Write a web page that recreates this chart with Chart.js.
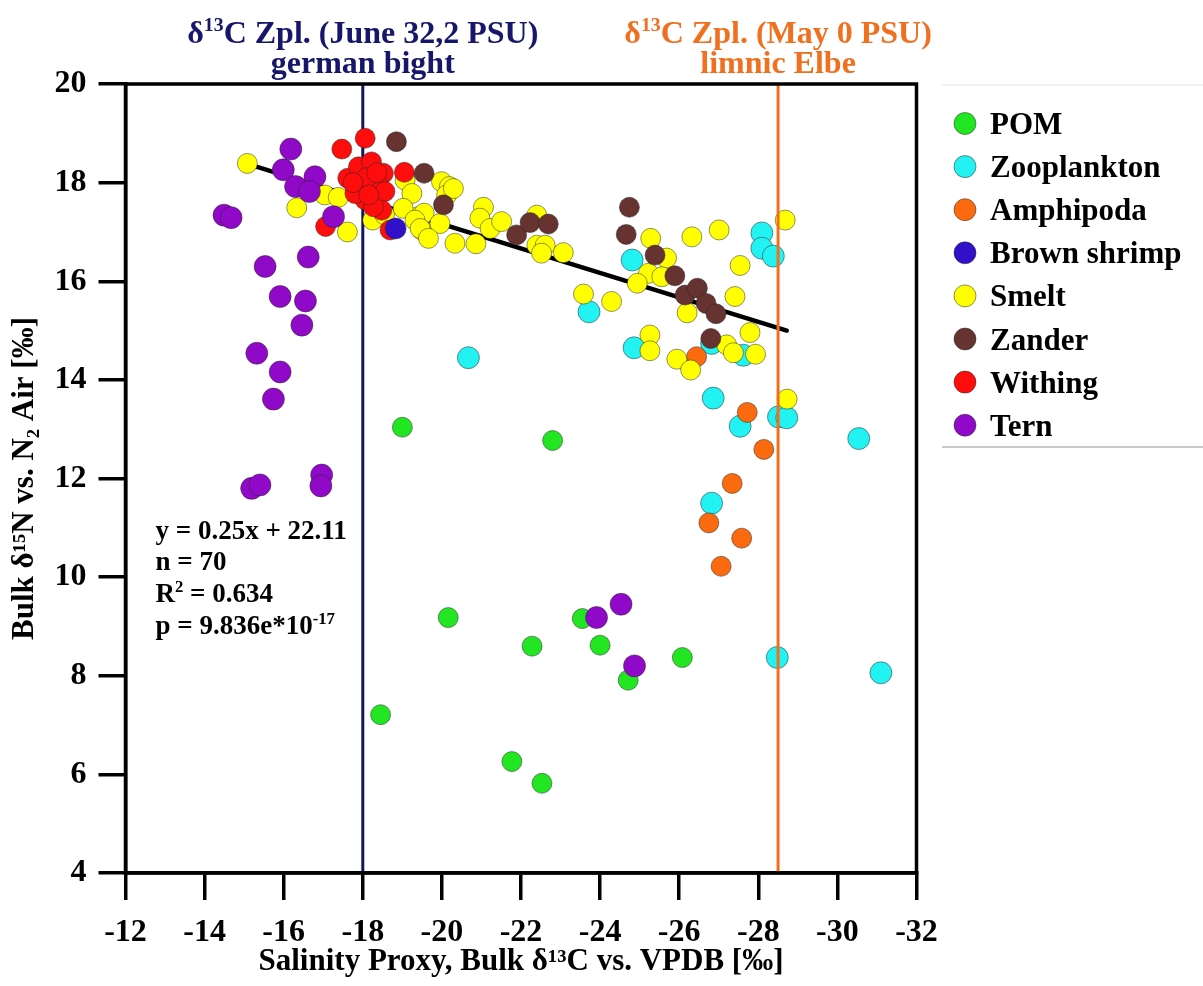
<!DOCTYPE html>
<html><head><meta charset="utf-8">
<script src="https://cdn.jsdelivr.net/npm/chart.js@4.4.0/dist/chart.umd.min.js"></script>
<style>html,body{margin:0;padding:0;background:#fff;}canvas{display:block;}</style>
</head><body>
<canvas id="c" width="1203" height="986" style="width:1203px;height:986px"></canvas>
<script>
// ---- data ----
const seriesNames = ['POM','Zooplankton','Amphipoda','Brown shrimp','Smelt','Zander','Withing','Tern'];

const pomX = [-19.00,-22.80,-20.16,-23.55,-22.28,-24.00,-26.08,-24.71,-18.45,-21.77,-22.53];
const pomY = [13.04,12.77,9.18,9.16,8.60,8.62,8.37,7.91,7.21,6.26,5.82];

const zooX = [-20.67,-23.72,-24.81,-24.86,-26.82,-27.62,-28.09,-28.09,-28.38,-26.86,-27.54,-28.51,-28.72,-30.54,-26.82,-28.48,-31.10];
const zooY = [14.45,15.38,16.43,14.65,14.74,14.50,16.98,16.67,16.51,13.63,13.06,13.25,13.23,12.81,11.50,8.37,8.06];

const amphX = [-26.44,-27.72,-28.14,-27.34,-26.75,-27.58,-27.06];
const amphY = [14.47,13.34,12.59,11.90,11.10,10.79,10.22];

const shrimpX = [-18.83];
const shrimpY = [17.07];

const smeltX = [-15.08,-16.33,-17.04,-17.38,-17.61,-18.25,-18.55,-19.07,-19.24,-19.49,-19.40,-19.99,-20.19,-20.12,-20.29,
  -19.02,-19.55,-19.32,-19.95,-19.45,-19.66,-20.33,-20.86,-21.05,-20.96,-21.22,-21.51,-22.40,-22.40,-22.61,-22.52,-23.07,
  -23.58,-24.29,-25.28,-26.32,-27.01,-28.68,-25.68,-25.22,-25.56,-24.94,-26.20,-27.54,-27.41,-25.26,-25.26,-27.20,-27.37,
  -27.79,-27.93,-25.94,-26.29,-28.73];
const smeltY = [18.39,17.49,17.75,17.70,17.00,17.24,17.35,18.05,17.78,17.04,17.31,18.02,17.92,17.75,17.88,
  17.48,17.38,17.24,17.17,17.07,16.87,16.77,16.76,17.50,17.28,17.07,17.21,17.34,16.73,16.73,16.57,16.58,
  15.74,15.59,16.87,16.90,17.04,17.24,16.47,16.16,16.09,15.96,15.36,16.32,15.69,14.91,14.59,14.71,14.55,
  14.96,14.52,14.42,14.20,13.61];

const zanderX = [-18.85,-19.55,-20.04,-21.89,-22.23,-22.69,-24.74,-24.66,-25.39,-25.89,-26.15,-26.46,-26.68,-26.93,-26.80];
const zanderY = [18.83,18.19,17.55,16.94,17.19,17.16,17.50,16.95,16.53,16.11,15.72,15.86,15.55,15.34,14.84];

const withingX = [-17.47,-18.06,-17.62,-17.89,-18.22,-18.52,-17.97,-18.39,-18.56,-18.06,-18.48,-18.27,-19.05,-17.80,-18.69,-17.06,-18.10,-18.35,-17.75,-18.15];
const withingY = [18.68,18.90,18.09,18.32,18.42,18.19,17.92,17.95,17.82,17.65,17.44,17.51,18.21,17.78,17.04,17.11,18.10,18.20,18.00,17.75];

const ternX = [-16.18,-15.99,-16.30,-16.79,-16.65,-14.49,-14.67,-17.26,-16.62,-15.53,-15.91,-16.55,-16.46,-15.32,-15.91,-15.74,-15.19,-15.40,-16.96,-16.94,-24.53,-23.91,-24.87];
const ternY = [18.68,18.26,17.92,18.12,17.82,17.34,17.29,17.31,16.49,16.30,15.69,15.60,15.11,14.54,14.16,13.61,11.80,11.87,12.07,11.85,9.45,9.18,8.20];

const regX = [-15.08,-28.72];
const regY = [18.38,15.00];

const zplX = [-18, -28.5];       // reference lines (June 32,2 PSU ; May 0 PSU)
const yRange = [4, 20];
const xTicks = [-12,-14,-16,-18,-20,-22,-24,-26,-28,-30,-32];
const yTicks = [4,6,8,10,12,14,16,18,20];

const statLines = ['y = 0.25x + 22.11','n = 70','R2 = 0.634','p = 9.836e*10-17'];

// ---- styling ----
const colors = ['#22e622','#22f2f2','#fb6a0e','#3010c8','#ffff00','#663330','#ff0c0c','#9008c8'];
const radii  = [10,11,10,10.5,10,10,10,11];
const FONT = '"Liberation Serif","Times New Roman",Times,serif';

function pts(xs, ys){ return xs.map((x,i)=>({x:x, y:ys[i]})); }
const seriesData = [pts(pomX,pomY),pts(zooX,zooY),pts(amphX,amphY),pts(shrimpX,shrimpY),pts(smeltX,smeltY),pts(zanderX,zanderY),pts(withingX,withingY),pts(ternX,ternY)];
const drawOrder = [8,7,6,2,5,4,3,1];

const datasets = seriesNames.map((n,i)=>({
  label:n, data:seriesData[i], backgroundColor:colors[i], borderColor:'rgba(40,40,40,0.5)', borderWidth:1,
  pointRadius:radii[i], pointHoverRadius:radii[i], order:drawOrder[i]
}));
datasets.push({label:'fit', isLine:true, data:pts(regX,regY), showLine:true, borderColor:'#000', borderWidth:4.5, pointRadius:0, order:12, borderCapStyle:'round'});
datasets.push({label:'june', isLine:true, data:pts([zplX[0],zplX[0]],yRange), showLine:true, borderColor:'#141466', borderWidth:3, pointRadius:0, order:13});
datasets.push({label:'may', isLine:true, data:pts([zplX[1],zplX[1]],yRange), showLine:true, borderColor:'#f07020', borderWidth:3, pointRadius:0, order:0});

function rich(ctx, segs, x, y, size, color, align){
  let w=0;
  const parts=segs.map(s=>{const fs=(s.sup||s.sub)?size*0.62:size; ctx.font='bold '+fs+'px '+FONT; const m=ctx.measureText(s.t).width; w+=m; return {s,fs,m};});
  let cx = align==='center' ? x-w/2 : x;
  ctx.fillStyle=color; ctx.textAlign='left'; ctx.textBaseline='alphabetic';
  parts.forEach(p=>{ctx.font='bold '+p.fs+'px '+FONT; const dy=p.s.sup?-size*0.36:(p.s.sub?size*0.2:0); ctx.fillText(p.s.t,cx,y+dy); cx+=p.m;});
}

const deco = {
  id:'deco',
  afterDraw(chart){
    const ctx=chart.ctx, a=chart.chartArea, xs=chart.scales.x;
    ctx.save();
    // frame
    ctx.strokeStyle='#000'; ctx.lineWidth=3.5;
    ctx.strokeRect(a.left,a.top,a.right-a.left,a.bottom-a.top);
    // top annotations
    const p1=xs.getPixelForValue(zplX[0]), p2=xs.getPixelForValue(zplX[1]);
    rich(ctx,[{t:'δ'},{t:'13',sup:true},{t:'C Zpl. (June 32,2 PSU)'}],p1,43,32,'#16166a','center');
    rich(ctx,[{t:'german bight'}],p1,73,32,'#16166a','center');
    rich(ctx,[{t:'δ'},{t:'13',sup:true},{t:'C Zpl. (May 0 PSU)'}],p2,43,32,'#f07020','center');
    rich(ctx,[{t:'limnic Elbe'}],p2,73,32,'#f07020','center');
    // statistics
    const sx=a.left+30, sy=538.5, lh=31.7;
    rich(ctx,[{t:statLines[0]}],sx,sy,27,'#000','left');
    rich(ctx,[{t:statLines[1]}],sx,sy+lh,27,'#000','left');
    rich(ctx,[{t:'R'},{t:'2',sup:true},{t:' = 0.634'}],sx,sy+2*lh,27,'#000','left');
    rich(ctx,[{t:'p = 9.836e*10'},{t:'-17',sup:true}],sx,sy+3*lh,27,'#000','left');
    // legend
    ctx.lineWidth=1.5; ctx.strokeStyle='#ececec';
    ctx.beginPath(); ctx.moveTo(942,85); ctx.lineTo(1203,85); ctx.stroke();
    ctx.strokeStyle='#b8b8b8';
    ctx.beginPath(); ctx.moveTo(942,447); ctx.lineTo(1203,447); ctx.stroke();
    chart.data.datasets.filter(d=>!d.isLine).forEach((d,i)=>{
      const cy=123.5+i*43.1;
      ctx.beginPath(); ctx.arc(965,cy,11,0,Math.PI*2);
      ctx.fillStyle=d.backgroundColor; ctx.fill();
      ctx.lineWidth=1; ctx.strokeStyle='rgba(40,40,40,0.5)'; ctx.stroke();
      ctx.fillStyle='#000'; ctx.font='bold 31px '+FONT; ctx.textAlign='left'; ctx.textBaseline='alphabetic';
      ctx.fillText(d.label,990,cy+10.5);
    });
    ctx.restore();
  }
};

const tickFont = {family:FONT, size:32, weight:'bold'};
new Chart(document.getElementById('c'), {
  type:'scatter',
  data:{datasets},
  options:{
    responsive:false, animation:false, devicePixelRatio:1,
    layout:{padding:{left:0,top:84,right:286.5,bottom:0}},
    plugins:{legend:{display:false}, tooltip:{enabled:false}},
    scales:{
      x:{type:'linear', reverse:true, min:xTicks[xTicks.length-1], max:xTicks[0],
        afterBuildTicks:(s)=>{s.ticks=xTicks.map(v=>({value:v}));},
        afterFit:(s)=>{s.height=113;},
        grid:{drawOnChartArea:false, drawTicks:true, tickLength:27, lineWidth:3.5, color:'#000'},
        border:{display:true, width:3.5, color:'#000'},
        ticks:{color:'#000', font:tickFont, padding:14, maxRotation:0, autoSkip:false},
        title:{display:true, text:'Salinity Proxy, Bulk δ¹³C vs. VPDB [‰]', color:'#000', font:{family:FONT,size:31,weight:'bold'}, padding:{top:0,bottom:5}}
      },
      y:{type:'linear', min:yTicks[0], max:yTicks[yTicks.length-1],
        afterBuildTicks:(s)=>{s.ticks=yTicks.map(v=>({value:v}));},
        afterFit:(s)=>{s.width=125.5;},
        grid:{drawOnChartArea:false, drawTicks:true, tickLength:27, lineWidth:3.5, color:'#000'},
        border:{display:true, width:3.5, color:'#000'},
        ticks:{color:'#000', font:tickFont, padding:12, autoSkip:false},
        title:{display:true, text:'Bulk δ¹⁵N vs. N₂ Air [‰]', color:'#000', font:{family:FONT,size:31,weight:'bold'}, padding:{top:6,bottom:0}}
      }
    }
  },
  plugins:[deco]
});
</script>
</body></html>
